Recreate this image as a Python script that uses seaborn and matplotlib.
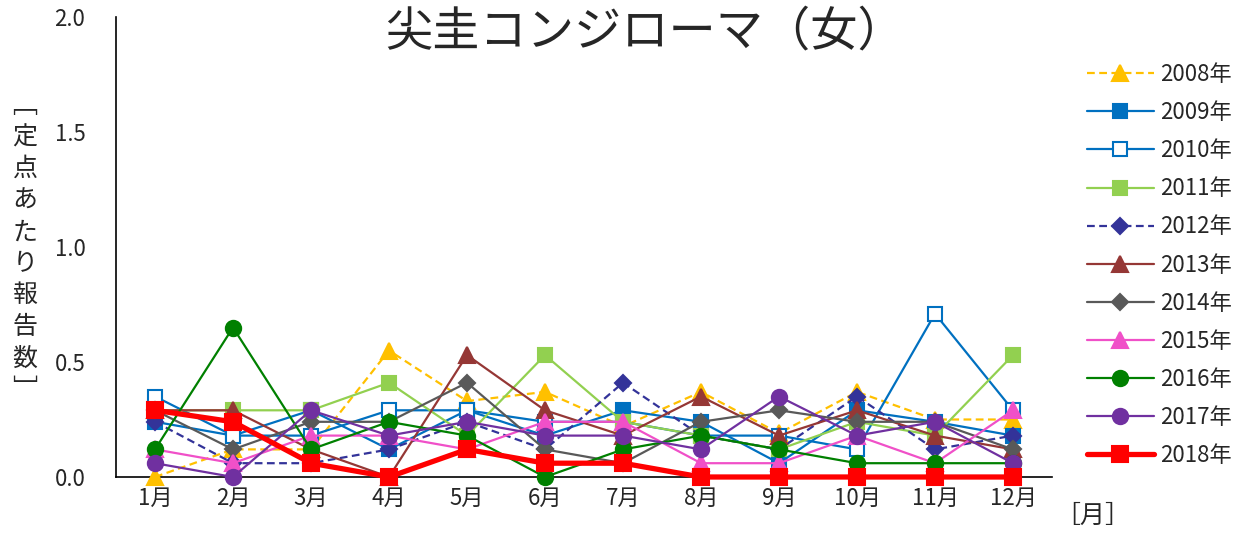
import matplotlib
matplotlib.use("Agg")
import matplotlib.pyplot as plt
import seaborn as sns
import numpy as np
import pandas as pd

sns.set_theme(style="white")
plt.rcParams['font.family'] = ['Noto Sans CJK JP', 'DejaVu Sans']

months = ["1月", "2月", "3月", "4月", "5月", "6月", "7月", "8月", "9月", "10月", "11月", "12月"]
years = ["2008年", "2009年", "2010年", "2011年", "2012年", "2013年", "2014年", "2015年", "2016年", "2017年", "2018年"]

v2008 = [0.00, 0.12, 0.12, 0.55, 0.33, 0.37, 0.22, 0.37, 0.19, 0.37, 0.25, 0.25]
v2009 = [0.24, 0.18, 0.29, 0.12, 0.29, 0.18, 0.29, 0.24, 0.06, 0.29, 0.24, 0.18]
v2010 = [0.35, 0.18, 0.18, 0.29, 0.29, 0.24, 0.24, 0.18, 0.18, 0.12, 0.71, 0.29]
v2011 = [0.29, 0.29, 0.29, 0.41, 0.18, 0.53, 0.24, 0.18, 0.12, 0.24, 0.18, 0.53]
v2012 = [0.24, 0.06, 0.06, 0.12, 0.24, 0.12, 0.41, 0.18, 0.12, 0.35, 0.12, 0.18]
v2013 = [0.29, 0.29, 0.12, 0.00, 0.53, 0.29, 0.18, 0.35, 0.18, 0.29, 0.18, 0.12]
v2014 = [0.29, 0.12, 0.24, 0.24, 0.41, 0.12, 0.06, 0.24, 0.29, 0.24, 0.24, 0.12]
v2015 = [0.12, 0.06, 0.18, 0.18, 0.12, 0.24, 0.24, 0.06, 0.06, 0.18, 0.06, 0.29]
v2016 = [0.12, 0.65, 0.12, 0.24, 0.18, 0.00, 0.12, 0.18, 0.12, 0.06, 0.06, 0.06]
v2017 = [0.06, 0.00, 0.29, 0.18, 0.24, 0.18, 0.18, 0.12, 0.35, 0.18, 0.24, 0.06]
v2018 = [0.29, 0.24, 0.06, 0.00, 0.12, 0.06, 0.06, 0.00, 0.00, 0.00, 0.00, 0.00]

series = [v2008, v2009, v2010, v2011, v2012, v2013, v2014, v2015, v2016, v2017, v2018]

styles = [
    dict(color="#FFC000", marker="^", ls=(0, (3.5, 2)), lw=1.6, mfc="#FFC000", ms=11),
    dict(color="#0070C0", marker="s", ls="-", lw=1.6, mfc="#0070C0", ms=10),
    dict(color="#0070C0", marker="s", ls="-", lw=1.6, mfc="white", ms=10),
    dict(color="#92D050", marker="s", ls="-", lw=1.6, mfc="#92D050", ms=10),
    dict(color="#333399", marker="D", ls=(0, (3.5, 2)), lw=1.6, mfc="#333399", ms=8),
    dict(color="#953735", marker="^", ls="-", lw=1.6, mfc="#953735", ms=11),
    dict(color="#595959", marker="D", ls="-", lw=1.6, mfc="#595959", ms=8),
    dict(color="#F050C8", marker="^", ls="-", lw=1.6, mfc="#F050C8", ms=11),
    dict(color="#008000", marker="o", ls="-", lw=1.6, mfc="#008000", ms=11),
    dict(color="#7030A0", marker="o", ls="-", lw=1.6, mfc="#7030A0", ms=11),
    dict(color="#FF0000", marker="s", ls="-", lw=3.8, mfc="#FF0000", ms=11),
]

fig = plt.figure(figsize=(12.47, 5.35), dpi=100)
ax = fig.add_axes([116/1247, 58/535, (1052-116)/1247, (477-17)/535])

xpos = np.arange(len(months))
for i, (yr, vals, st) in enumerate(zip(years, series, styles)):
    df = pd.DataFrame({"x": xpos, "y": vals})
    sns.lineplot(data=df, x="x", y="y", ax=ax, sort=False, label=yr,
                 color=st["color"], marker=st["marker"], linestyle=st["ls"],
                 linewidth=st["lw"], markerfacecolor=st["mfc"],
                 markeredgecolor=st["color"], markeredgewidth=1.5,
                 markersize=st["ms"], clip_on=False, zorder=3 + i)

ax.set_xlim(-0.5, len(months) - 0.5)
ax.set_ylim(0, 2.0)
ax.set_xticks(xpos)
ax.set_xticklabels(months, fontsize=16)
ax.set_xticks(np.arange(-0.5, len(months), 1.0), minor=True)
ax.tick_params(axis="x", which="major", length=0, pad=7)
ax.tick_params(axis="x", which="minor", direction="in", length=5, color="#808080", width=1)
ax.set_yticks([0, 0.5, 1.0, 1.5, 2.0])
ax.set_yticklabels(["0.0", "0.5", "1.0", "1.5", "2.0"], fontsize=16)
ax.tick_params(axis="y", direction="in", length=7, color="#808080", width=1, pad=22)
ax.set_xlabel("")
ax.set_ylabel("")
for s in ["top", "right"]:
    ax.spines[s].set_visible(False)
for s in ["left", "bottom"]:
    ax.spines[s].set_color("black")
    ax.spines[s].set_linewidth(1.2)

fig.text(645/1247, 1 - 32/535, "尖圭コンジローマ（女）", fontsize=34, ha="center", va="center")
ylab = "\n".join(list("﹇定点あたり報告数﹈"))
fig.text(25/1247, 1 - 248/535, ylab, fontsize=18, ha="center", va="center", linespacing=1.28)
fig.text(1093/1247, 1 - 516/535, "［月］", fontsize=18, ha="center", va="center")

leg = ax.legend(loc="upper left", bbox_to_anchor=(1087/1247, 1 - 63/535),
                bbox_transform=fig.transFigure, frameon=False, fontsize=16,
                handlelength=3.0, handletextpad=0.3, labelspacing=0.68,
                borderpad=0, borderaxespad=0)

fig.savefig("out.png", dpi=100)
